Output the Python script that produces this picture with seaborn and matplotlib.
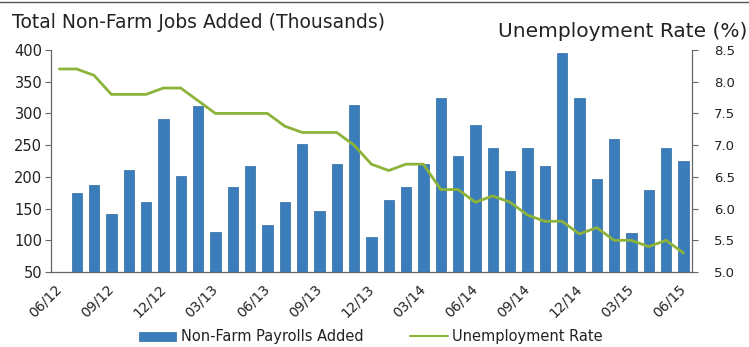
import matplotlib
matplotlib.use('Agg')
import matplotlib.pyplot as plt
from matplotlib.lines import Line2D
from matplotlib.patches import Patch
import numpy as np
import pandas as pd
import seaborn as sns

## Data
months = ['06/12', '07/12', '08/12', '09/12', '10/12', '11/12', '12/12',
          '01/13', '02/13', '03/13', '04/13', '05/13', '06/13', '07/13',
          '08/13', '09/13', '10/13', '11/13', '12/13', '01/14', '02/14',
          '03/14', '04/14', '05/14', '06/14', '07/14', '08/14', '09/14',
          '10/14', '11/14', '12/14', '01/15', '02/15', '03/15', '04/15',
          '05/15', '06/15']
payrolls = [np.nan, 175, 187, 142, 211, 161, 291, 202, 312, 113, 184, 217,
            124, 160, 252, 147, 221, 314, 106, 163, 184, 221, 325, 233,
            282, 246, 209, 246, 217, 396, 324, 196, 259, 112, 179, 246, 225]
unemployment = [8.2, 8.2, 8.1, 7.8, 7.8, 7.8, 7.9, 7.9, 7.7, 7.5, 7.5, 7.5,
                7.5, 7.3, 7.2, 7.2, 7.2, 7.0, 6.7, 6.6, 6.7, 6.7, 6.3, 6.3,
                6.1, 6.2, 6.1, 5.9, 5.8, 5.8, 5.6, 5.7, 5.5, 5.5, 5.4, 5.5, 5.3]
tick_labels = months[::3]

df = pd.DataFrame({'Month': months, 'Payrolls': payrolls,
                   'Rate': unemployment, 'pos': np.arange(len(months))})

bar_color = '#3b7dba'
line_color = '#8db33a'
text_color = '#222222'
spine_color = '#666666'

sns.set_style('white')
plt.rcParams['font.family'] = ['DejaVu Sans']

fig = plt.figure(figsize=(7.49, 3.47), dpi=100)
ax = fig.add_axes([0.0677, 0.216, 0.8563, 0.640])

sns.barplot(ax=ax, data=df, x='Month', y='Payrolls', order=months,
            color=bar_color, saturation=1, width=0.6,
            edgecolor='#2d6aa3', linewidth=0.5)
ax.set_ylim(50, 400)
ax.set_yticks(range(50, 401, 50))
ax.set_xlim(-0.5, len(months) - 0.5)
ax.set_xlabel('')
ax.set_ylabel('')

# labels on every third month, tick marks on category boundaries
ax.set_xticks(range(0, len(months), 3))
ax.set_xticklabels(tick_labels, rotation=45, ha='right', va='center',
                   rotation_mode='anchor', fontsize=10, color=text_color)
ax.set_xticks(np.arange(-0.5, len(months), 3), minor=True)
ax.tick_params(axis='x', which='major', length=0, pad=11)
ax.tick_params(axis='x', which='minor', length=4, color=spine_color, width=0.8)
ax.tick_params(axis='y', length=4, color=spine_color, width=0.8,
               labelsize=10.5, labelcolor=text_color, pad=2)

for s in ['top', 'right']:
    ax.spines[s].set_visible(False)
for s in ['left', 'bottom']:
    ax.spines[s].set_color(spine_color)
    ax.spines[s].set_linewidth(0.9)

ax2 = ax.twinx()
sns.lineplot(ax=ax2, data=df, x='pos', y='Rate', color=line_color,
             linewidth=2.0)
ax2.set_ylim(5.0, 8.5)
ax2.set_yticks(np.arange(5.0, 8.51, 0.5))
ax2.set_yticklabels([f'{v:.1f}' for v in np.arange(5.0, 8.51, 0.5)])
ax2.set_xlim(-0.5, len(months) - 0.5)
ax2.set_ylabel('')
ax2.set_xlabel('')
ax2.tick_params(axis='y', length=4, color=spine_color, width=0.8,
                labelsize=9.5, labelcolor=text_color, pad=12)
for s in ['top', 'left', 'bottom']:
    ax2.spines[s].set_visible(False)
ax2.spines['right'].set_color(spine_color)
ax2.spines['right'].set_linewidth(0.9)

fig.text(0.016, 0.92, 'Total Non-Farm Jobs Added (Thousands)',
         fontsize=13.5, color=text_color)
fig.text(0.998, 0.893, 'Unemployment Rate (%)', ha='right',
         fontsize=14.5, color=text_color)

handles = [Patch(facecolor=bar_color, edgecolor='#2d6aa3', linewidth=0.5),
           Line2D([0], [0], color=line_color, linewidth=1.5)]
fig.legend(handles, ['Non-Farm Payrolls Added', 'Unemployment Rate'],
           loc='lower center', bbox_to_anchor=(0.495, -0.03), ncol=2,
           frameon=False, fontsize=10.5, handlelength=2.6, handleheight=0.6,
           columnspacing=3.2, handletextpad=0.3, labelcolor=text_color)

# thin rule along the top edge, as in the scanned page
fig.add_artist(Line2D([0.0, 1.0], [0.994, 0.994], transform=fig.transFigure,
                      color='#555555', linewidth=1.0))

fig.savefig('out.png', dpi=100)
